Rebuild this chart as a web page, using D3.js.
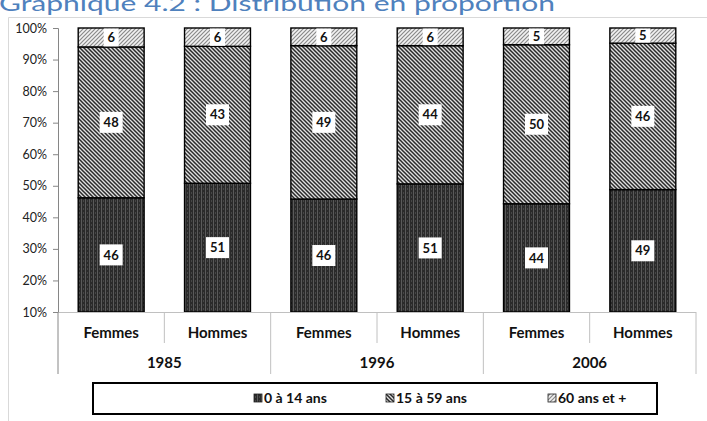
<!DOCTYPE html>
<html><head><meta charset="utf-8">
<script src="https://cdn.jsdelivr.net/npm/d3@7/dist/d3.min.js"></script>
<style>body{margin:0;background:#fff}svg{display:block}text{font-family:Lato,"Open Sans",sans-serif}</style>
</head><body><svg id="c" width="707" height="421"></svg>
<script>
const years = ["1985","1996","2006"];
const sexes = ["Femmes","Hommes"];
const seriesNames = ["0 à 14 ans","15 à 59 ans","60 ans et +"];
const age0_14 = [46.2, 50.8, 45.8, 50.6, 44.3, 48.8];
const age15_59 = [47.8, 43.4, 48.6, 43.8, 50.4, 46.4];
const age60p = [6.0, 5.8, 5.6, 5.6, 5.3, 4.8];
const yTicks = [10,20,30,40,50,60,70,80,90,100];
const title = "Graphique 4.2 : Distribution en proportion";

const svg = d3.select("#c");
const defs = svg.append("defs");
const p0 = defs.append("pattern").attr("id","p0").attr("patternUnits","userSpaceOnUse").attr("width",4).attr("height",4);
p0.append("rect").attr("width",4).attr("height",4).attr("fill","#2a2a2a");
p0.append("rect").attr("x",1).attr("width",1).attr("height",4).attr("fill","#5a5a5a");
p0.append("rect").attr("x",3).attr("y",0).attr("width",1).attr("height",2).attr("fill","#464646");
const p1 = defs.append("pattern").attr("id","p1").attr("patternUnits","userSpaceOnUse").attr("width",4).attr("height",4);
p1.append("rect").attr("width",4).attr("height",4).attr("fill","#e0e0e0");
p1.append("path").attr("d","M-1,-1 L5,5 M-1,3 L1,5 M3,-1 L5,1").attr("stroke","#2a2a2a").attr("stroke-width",1.5);
const p2 = defs.append("pattern").attr("id","p2").attr("patternUnits","userSpaceOnUse").attr("width",4).attr("height",4);
p2.append("rect").attr("width",4).attr("height",4).attr("fill","#f2f2f2");
p2.append("path").attr("d","M-1,5 L5,-1 M-1,1 L1,-1 M3,5 L5,3").attr("stroke","#8a8a8a").attr("stroke-width",1.2);
const fills = ["url(#p0)","url(#p1)","url(#p2)"];

svg.append("text").attr("x",-1).attr("y",11).attr("fill","#4f81bd").attr("font-size",21)
  .attr("textLength",556).attr("lengthAdjust","spacingAndGlyphs").text(title);
svg.append("path").attr("d","M8.5,421 V17.5 H707").attr("fill","none").attr("stroke","#d9d9d9");

const keys = [];
years.forEach(y => sexes.forEach(s => keys.push(y+"|"+s)));
const rows = keys.map((k,i)=>({key:k, a:age0_14[i], b:age15_59[i], c:age60p[i]}));

const x = d3.scaleBand().domain(keys).range([58,696]).paddingInner(0.38).paddingOuter(0.19);
const y = d3.scaleLinear().domain([10,100]).range([312,28]).clamp(true);

const yAxis = svg.append("g").attr("transform","translate(58,0)")
  .call(d3.axisLeft(y).tickValues(yTicks).tickFormat(d=>d+"%").tickSize(5).tickPadding(6));
yAxis.select(".domain").attr("stroke","#868686");
yAxis.selectAll(".tick line").attr("stroke","#868686");
yAxis.selectAll("text").attr("font-size",12.5).attr("fill","#222").attr("font-family","Lato,sans-serif");

const stack = d3.stack().keys(["a","b","c"])(rows);
const g = svg.append("g");
stack.forEach((layer,li)=>{
  g.selectAll(null).data(layer).join("rect")
    .attr("x",d=>x(d.data.key)).attr("width",x.bandwidth())
    .attr("y",d=>y(d[1])).attr("height",d=>y(d[0])-y(d[1]))
    .attr("fill",fills[li]).attr("stroke","#000").attr("stroke-width",1.4);
});
stack.forEach((layer,li)=>{
  layer.forEach(d=>{
    const cx = x(d.data.key)+x.bandwidth()/2;
    const cy = (y(Math.max(d[0],10))+y(d[1]))/2;
    const txt = String(Math.round(d[1]-d[0]));
    const w = txt.length===1 ? 15 : 23;
    const h = li===2 ? Math.min(19, y(d[0])-y(d[1])-1) : 21;
    g.append("rect").attr("x",cx-w/2).attr("y",cy-h/2).attr("width",w).attr("height",h).attr("fill","#fff");
    g.append("text").attr("x",cx).attr("y",cy).attr("dy","0.36em").attr("text-anchor","middle")
      .attr("font-size",13).attr("font-weight","bold").attr("fill","#111").text(txt);
  });
});

const axisC = "#c0c0c0";
svg.append("line").attr("x1",58).attr("x2",696).attr("y1",312.5).attr("y2",312.5).attr("stroke",axisC);
const step = x.step();
const x0 = 58;
for (let i=0;i<=keys.length;i++){
  const xx = x0 + i*step;
  const long = i%2===0;
  svg.append("line").attr("x1",xx).attr("x2",xx).attr("y1",312).attr("y2",long?374:343)
    .attr("stroke", i===0 ? "#868686" : axisC);
}
keys.forEach(k=>{
  svg.append("text").attr("x",x(k)+x.bandwidth()/2).attr("y",333).attr("dy","0.36em")
    .attr("text-anchor","middle").attr("font-size",15).attr("font-weight","bold").attr("fill","#111")
    .text(k.split("|")[1]);
});
years.forEach((yr,i)=>{
  svg.append("text").attr("x",x0 + (2*i+1)*step).attr("y",363).attr("dy","0.36em")
    .attr("text-anchor","middle").attr("font-size",15).attr("font-weight","bold").attr("fill","#111").text(yr);
});

svg.append("rect").attr("x",93).attr("y",383).attr("width",564).attr("height",31)
  .attr("fill","#fff").attr("stroke","#000").attr("stroke-width",2);
const legX = [254, 386, 548];
seriesNames.forEach((n,i)=>{
  svg.append("rect").attr("x",legX[i]).attr("y",394).attr("width",8).attr("height",8)
    .attr("fill",fills[i]).attr("stroke","#222").attr("stroke-width",0.8);
  svg.append("text").attr("x",legX[i]+10).attr("y",398).attr("dy","0.36em")
    .attr("font-size",14).attr("font-weight","bold").attr("fill","#111").text(n);
});
</script></body></html>
